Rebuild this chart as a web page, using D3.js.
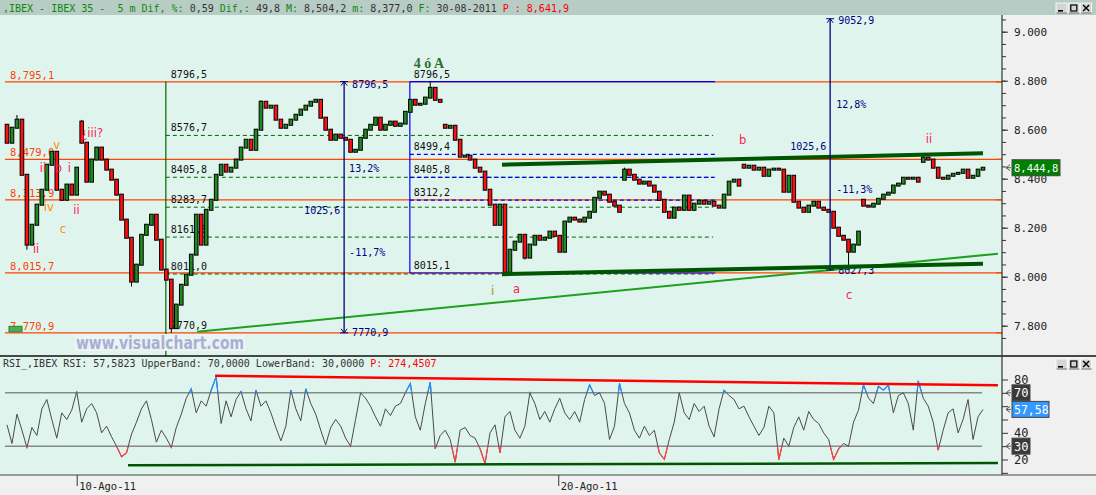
<!DOCTYPE html>
<html><head><meta charset="utf-8">
<script src="https://cdn.jsdelivr.net/npm/d3@7"></script>
<style>
body{margin:0;background:#f0f0f0;overflow:hidden}
text{font-family:"DejaVu Sans Mono",monospace;white-space:pre}
</style>
</head><body><svg id="c" width="1096" height="495"></svg>
<script>
// ---------------- DATA ----------------
const closes=[8547,8608,8641,8416,8131,8212,8294,8355,8457,8510,
8355,8314,8376,8335,8445,8547,8388,8478,8527,8478,
8437,8396,8335,8233,8159,7980,8049,8171,8212,8253,
8151,8029,7988,7790,7886,7967,8008,8090,8253,8131,
8273,8314,8416,8457,8429,8445,8478,8527,8559,8518,
8600,8714,8690,8698,8641,8608,8620,8641,8661,8682,
8698,8714,8722,8649,8600,8559,8580,8567,8559,8510,
8518,8567,8600,8620,8649,8600,8620,8633,8616,8625,
8673,8722,8702,8706,8731,8771,8722,8714,8608,8616,
8559,8490,8494,8478,8445,8429,8355,8294,8212,8294,
8020,8110,8143,8171,8078,8131,8167,8151,8159,8184,
8167,8102,8225,8241,8233,8225,8241,8265,8322,8347,
8335,8306,8290,8265,8437,8416,8396,8380,8388,8372,
8347,8314,8265,8241,8282,8273,8331,8273,8298,8310,
8298,8306,8290,8282,8335,8388,8396,8372,8445,8453,
8437,8445,8412,8437,8441,8437,8347,8412,8306,8282,
8265,8290,8306,8282,8273,8265,8200,8167,8151,8102,
8131,8184,8290,8286,8298,8318,8335,8343,8372,8380,
8404,8400,8404,8388,8486,8478,8445,8404,8400,8412,
8420,8424,8437,8404,8412,8437,8444.8];
// opens after session gaps (others open at previous close)
const gapOpens={0:8620,15:8633,88:8620,124:8396,148:8457,172:8314,184:8469};
const wickHighs={2:8660,15:8640,51:8720,85:8796.5,124:8445,184:8494};
const wickLows={4:8110,25:7960,33:7770.9,100:8015,104:8070,169:8027.3};

const rsi=[46,32,54,42,29,44,38,58,65,50,36,55,50,57,71,48,58,62,55,40,
45,37,30,22,25,39,48,58,64,50,33,42,36,29,44,54,66,73,55,64,
60,72,82,47,64,52,65,71,58,49,72,60,64,55,44,34,45,72,58,49,
73,62,54,42,31,44,50,45,36,30,50,70,66,60,52,45,58,53,60,62,
70,77,52,42,62,78,28,38,42,35,18,42,44,38,36,28,17,40,46,25,
52,56,42,36,45,70,62,50,56,48,58,66,55,50,56,48,65,76,68,70,
62,35,45,77,62,55,42,36,45,38,42,25,20,35,48,70,55,50,62,56,
60,45,37,58,72,68,65,58,60,52,45,38,44,60,55,20,36,30,44,52,
42,56,50,47,40,35,20,28,32,30,48,57,76,66,62,75,72,76,55,68,
70,62,42,79,66,60,48,27,42,55,58,40,50,65,35,52,57.58];

const priceLabels=[7800,8000,8200,8400,8600,8800,9000];
const rsiLabels=[20,40,80];
const levels=[8795.1,8479.0,8313.9,8015.7,7770.9];
const levelLabels=["8,795,1","8,479,0","8,313,9","8,015,7","7,770,9"];
const fibLeft=[8796.5,8576.7,8405.8,8283.7,8161.6,8011.0,7770.9];
const fibLeftLabels=["8796,5","8576,7","8405,8","8283,7","8161,6","8011,0","7770,9"];
const fibBlue=[8796.5,8499.4,8405.8,8312.2,8015.1];
const fibBlueLabels=["8796,5","8499,4","8405,8","8312,2","8015,1"];
const dateTicks=[14.1,110.8];
const dateLabels=["10-Ago-11","20-Ago-11"];
const lastPrice=8444.8, lastRsi=57.58;

// ---------------- SETUP ----------------
const W=1096,H=495,axisX=1002,mainTop=15,mainBot=356,rsiBot=475;
const svg=d3.select("#c");
const x=d3.scaleLinear().domain([0,196]).range([7,983]);
const y=d3.scaleLinear().domain([7800,9000]).range([325.7,31.7]);
const yr=d3.scaleLinear().domain([20,80]).range([459.5,379.5]);
const MINT="#e0f4ee",ORANGE="#ff4500",NAVY="#000080",BLUE="#0000ff",DKG="#006400";
const fmtAx=d=>d3.format(",")(d).replace(",",".");

svg.append("rect").attr("width",W).attr("height",H).attr("fill","#f0f0f0");
svg.append("rect").attr("width",W).attr("height",mainTop).attr("fill","#b8ccc6");
svg.append("rect").attr("x",0).attr("y",mainTop).attr("width",axisX).attr("height",mainBot-mainTop).attr("fill",MINT);
svg.append("rect").attr("x",0).attr("y",mainBot).attr("width",axisX).attr("height",rsiBot-mainBot).attr("fill",MINT);

const defs=svg.append("defs");
defs.append("clipPath").attr("id","cm").append("rect").attr("x",0).attr("y",mainTop).attr("width",axisX).attr("height",mainBot-mainTop);
defs.append("clipPath").attr("id","cr").append("rect").attr("x",0).attr("y",mainBot+1).attr("width",axisX).attr("height",rsiBot-mainBot-1);
defs.append("clipPath").attr("id","hi").append("rect").attr("x",0).attr("y",mainBot).attr("width",axisX).attr("height",yr(70)-mainBot);
defs.append("clipPath").attr("id","lo").append("rect").attr("x",0).attr("y",yr(30)).attr("width",axisX).attr("height",rsiBot-yr(30));

// ---------------- HEADER ----------------
const hdr=svg.append("text").attr("x",3).attr("y",11.5).attr("font-size",10);
[[",IBEX - IBEX 35 -  5 m Dif, %:","#0a8a0a"],[" 0,59 ","#333"],["Dif,:","#0a8a0a"],[" 49,8 ","#333"],
 ["M:","#0a8a0a"],[" 8,504,2 ","#333"],["m:","#0a8a0a"],[" 8,377,0 ","#333"],["F:","#0a8a0a"],
 [" 30-08-2011 ","#333"],["P : 8,641,9","#ff0000"]].forEach(([t,c])=>hdr.append("tspan").attr("fill",c).text(t));

function winButtons(yTop){
  const g=svg.append("g");
  ["min","max","close"].forEach((k,j)=>{
    const bx=1056+j*12.3;
    g.append("rect").attr("x",bx).attr("y",yTop).attr("width",11).attr("height",10).attr("fill","#d4d4d4").attr("stroke","#fff").attr("stroke-width",0.8);
    g.append("line").attr("x1",bx+0.5).attr("x2",bx+11).attr("y1",yTop+10).attr("y2",yTop+10).attr("stroke","#666");
    if(k==="min") g.append("rect").attr("x",bx+2).attr("y",yTop+7).attr("width",5).attr("height",1.6).attr("fill","#000");
    if(k==="max") g.append("rect").attr("x",bx+2.5).attr("y",yTop+2).attr("width",6).attr("height",6).attr("fill","none").attr("stroke","#000").attr("stroke-width",1.2);
    if(k==="close") g.append("path").attr("d",`M${bx+2.5},${yTop+2}L${bx+8.5},${yTop+8}M${bx+8.5},${yTop+2}L${bx+2.5},${yTop+8}`).attr("stroke","#000").attr("stroke-width",1.4);
  });
}
winButtons(3);

// ---------------- MAIN PANEL ----------------
const gm=svg.append("g").attr("clip-path","url(#cm)");
levels.forEach((v,k)=>{
  gm.append("line").attr("x1",x(-0.4)).attr("x2",axisX).attr("y1",y(v)).attr("y2",y(v)).attr("stroke",ORANGE).attr("stroke-width",1.2);
  gm.append("text").attr("x",10).attr("y",y(v)-3).attr("font-size",10.5).attr("fill",ORANGE).text(levelLabels[k]);
});
gm.append("rect").attr("x",9).attr("y",y(7770.9)-6.5).attr("width",13).attr("height",5.5).attr("fill","#4caf50").attr("stroke","#2e7d32");

// left fibonacci
const fl0=31.9, fl1=141.8;
gm.append("line").attr("x1",x(fl0)).attr("x2",x(fl0)).attr("y1",y(fibLeft[0])).attr("y2",mainBot).attr("stroke",DKG).attr("stroke-width",1.2);
fibLeft.forEach((v,k)=>{
  if(k>0&&k<fibLeft.length-1)
    gm.append("line").attr("x1",x(fl0)).attr("x2",x(fl1)).attr("y1",y(v)).attr("y2",y(v)).attr("stroke",DKG).attr("stroke-dasharray","4,3");
  gm.append("text").attr("x",x(fl0)+5).attr("y",y(v)-4).attr("font-size",10).attr("fill","#111").text(fibLeftLabels[k]);
});
// blue fibonacci
const fb0=80.9, fb1=142.2;
gm.append("line").attr("x1",x(fb0)).attr("x2",x(fb0)).attr("y1",y(fibBlue[0])).attr("y2",y(fibBlue[4])).attr("stroke",BLUE).attr("stroke-width",1.2);
fibBlue.forEach((v,k)=>{
  gm.append("line").attr("x1",x(fb0)).attr("x2",x(fb1)).attr("y1",y(v)).attr("y2",y(v)).attr("stroke",BLUE).attr("stroke-width",1.2)
    .attr("stroke-dasharray",(k===0||k===4)?null:"4,3");
  gm.append("text").attr("x",x(fb0)+4).attr("y",y(v)-4).attr("font-size",10).attr("fill","#111").text(fibBlueLabels[k]);
});

// candles
const candles=closes.map((c,i)=>{
  const o=gapOpens[i]!==undefined?gapOpens[i]:closes[i-1];
  return {i,o,c,h:wickHighs[i]!==undefined?wickHighs[i]:Math.max(o,c),l:wickLows[i]!==undefined?wickLows[i]:Math.min(o,c)};
});
const gc=gm.append("g");
gc.selectAll("line").data(candles).join("line")
  .attr("x1",d=>x(d.i)).attr("x2",d=>x(d.i)).attr("y1",d=>y(d.h)).attr("y2",d=>y(d.l)).attr("stroke","#000");
gc.selectAll("rect").data(candles).join("rect")
  .attr("x",d=>x(d.i)-1.8).attr("width",3.6)
  .attr("y",d=>y(Math.max(d.o,d.c))-0.5).attr("height",d=>Math.max(2,Math.abs(y(d.o)-y(d.c))+1))
  .attr("fill",d=>d.c>=d.o?"#1f8a1f":"#ff1010").attr("stroke","#000").attr("stroke-width",1);

// trend line & channel
const line=d3.line().x(d=>x(d[0])).y(d=>y(d[1]));
const trend=[[38.2,7775],[199,8094]];
const chanTop=[[99.4,8457],[196,8504]];
const chanBot=[[99.4,8010],[196,8053]];
gm.append("path").attr("d",line(trend)).attr("stroke","#1ea01e").attr("stroke-width",2).attr("fill","none");
gm.append("path").attr("d",line(chanTop)).attr("stroke","#005500").attr("stroke-width",4).attr("fill","none");

// measure arrows
function arrow(i,pTop,pBot,labels){
  const ax=x(i),y1=y(pTop),y2=y(pBot);
  gm.append("line").attr("x1",ax).attr("x2",ax).attr("y1",y1).attr("y2",y2).attr("stroke",NAVY).attr("stroke-width",1.3);
  [[y1,1],[y2,-1]].forEach(([yy,s])=>{
    gm.append("line").attr("x1",ax-4).attr("x2",ax+4).attr("y1",yy).attr("y2",yy).attr("stroke",NAVY);
    gm.append("path").attr("d",`M${ax-3},${yy+4*s}L${ax},${yy}L${ax+3},${yy+4*s}`).attr("stroke",NAVY).attr("fill","none");
  });
  labels.forEach(l=>gm.append("text").attr("x",ax+l.dx).attr("y",y(l.p)).attr("font-size",10).attr("fill",NAVY).text(l.t));
}
arrow(67.7,8796.5,7770.9,[{t:"8796,5",p:8772,dx:8},{t:"13,2%",p:8429,dx:5},{t:"1025,6",p:8257,dx:-40},{t:"-11,7%",p:8086,dx:5},{t:"7770,9",p:7760,dx:8}]);
arrow(165.3,9052.9,8027.3,[{t:"9052,9",p:9030,dx:8},{t:"12,8%",p:8690,dx:6},{t:"1025,6",p:8518,dx:-40},{t:"-11,3%",p:8343,dx:6},{t:"8027,3",p:8010,dx:8}]);
gm.append("path").attr("d",line(chanBot)).attr("stroke","#005500").attr("stroke-width",4).attr("fill","none");

// wave labels
const waves=[
 {t:"¿iii?",i:14.9,p:8571,c:"#ff2050"},{t:"v",i:9.3,p:8522,c:"#ff8c00"},{t:"ii",i:6.6,p:8429,c:"#ff2050"},
 {t:"b",i:9.6,p:8429,c:"#ff2050"},{t:"i",i:12.2,p:8429,c:"#ff2050"},{t:"iv",i:7.4,p:8268,c:"#ff8c00"},
 {t:"ii",i:13.3,p:8255,c:"#ff2050"},{t:"c",i:10.6,p:8180,c:"#ff8c00"},{t:"ii",i:5.2,p:8098,c:"#ff2050"},
 {t:"i",i:97.2,p:7927,c:"#999900"},{t:"a",i:101.6,p:7935,c:"#ff2050"},{t:"b",i:147,p:8543,c:"#ff2050"},
 {t:"ii",i:184.5,p:8547,c:"#ff2050"},{t:"c",i:168.5,p:7910,c:"#ff2050"}];
gm.selectAll("text.w").data(waves).join("text").attr("class","w")
  .attr("x",d=>x(d.i)).attr("y",d=>y(d.p)).attr("fill",d=>d.c)
  .style("font-family","'DejaVu Sans',sans-serif").attr("font-size",11.5).text(d=>d.t);
gm.append("text").attr("x",x(81.7)).attr("y",y(8796.5)-14).attr("font-size",14).attr("font-weight","bold")
  .style("font-family","'Liberation Serif',serif").attr("fill","#2d6e2d").text("4 ó A");

// watermark
gm.append("rect").attr("x",74).attr("y",334).attr("width",172).attr("height",17).attr("fill","#eaf5f2");
gm.append("text").attr("x",76).attr("y",348.5).attr("font-size",17).attr("font-weight","bold")
  .style("font-family","'DejaVu Sans',sans-serif").attr("fill","#a9aed6")
  .attr("textLength",168).attr("lengthAdjust","spacingAndGlyphs").text("www.visualchart.com");

// ---------------- RIGHT PRICE AXIS ----------------
const ax=svg.append("g").attr("transform",`translate(${axisX},0)`);
ax.call(d3.axisRight(y).tickValues(d3.range(7750,9051,50)).tickSize(4).tickFormat(""));
ax.call(g=>g.select(".domain").remove());
const ax2=svg.append("g").attr("transform",`translate(${axisX},0)`)
  .call(d3.axisRight(y).tickValues(priceLabels).tickSize(6).tickPadding(6).tickFormat(fmtAx));
ax2.select(".domain").remove();
svg.selectAll(".tick line").attr("stroke","#333");
ax2.selectAll("text").attr("font-size",11).style("font-family","'DejaVu Sans Mono',monospace").attr("fill","#222");
levels.forEach(v=>svg.append("line").attr("x1",axisX-6).attr("x2",axisX).attr("y1",y(v)).attr("y2",y(v)).attr("stroke",ORANGE).attr("stroke-width",1.2));

function tag(yy,label,fill,w,fs){
  svg.append("path").attr("d",`M${axisX+8},${yy-3}L${axisX+4},${yy}L${axisX+8},${yy+3}M${axisX+4},${yy}H${axisX+9}`).attr("stroke","#555").attr("fill","none");
  svg.append("rect").attr("x",axisX+10).attr("y",yy-8).attr("width",w).attr("height",16).attr("fill",fill).attr("stroke","#444");
  svg.append("text").attr("x",axisX+12).attr("y",yy+4.5).attr("font-size",fs).attr("fill","#fff").text(label);
}
tag(y(lastPrice),"8,444,8","#008000",48,10.5);

// ---------------- RSI PANEL ----------------
svg.append("line").attr("x1",0).attr("x2",W).attr("y1",mainBot).attr("y2",mainBot).attr("stroke","#111").attr("stroke-width",1.6);
const rh=svg.append("text").attr("x",3).attr("y",366.5).attr("font-size",10);
rh.append("tspan").attr("fill","#333").text("RSI_,IBEX RSI: 57,5823 UpperBand: 70,0000 LowerBand: 30,0000 ");
rh.append("tspan").attr("fill","#ff0000").text("P: 274,4507");
winButtons(359);

const gr=svg.append("g").attr("clip-path","url(#cr)");
[70,30].forEach(v=>gr.append("line").attr("x1",x(-0.4)).attr("x2",x(195.8)).attr("y1",yr(v)).attr("y2",yr(v)).attr("stroke","#555"));
const rl=d3.line().x((d,i)=>x(i)).y(d=>yr(d));
gr.append("path").attr("d",rl(rsi)).attr("fill","none").attr("stroke","#4a4a4a").attr("stroke-width",1);
gr.append("g").attr("clip-path","url(#hi)").append("path").attr("d",rl(rsi)).attr("fill","none").attr("stroke","#1e90ff").attr("stroke-width",1.2);
gr.append("g").attr("clip-path","url(#lo)").append("path").attr("d",rl(rsi)).attr("fill","none").attr("stroke","#ff4040").attr("stroke-width",1.2);
const rline=d3.line().x(d=>x(d[0])).y(d=>yr(d[1]));
const rsiRes=[[41.8,82.8],[199,75.7]];
const rsiSup=[[24.3,15.7],[199,17.3]];
gr.append("path").attr("d",rline(rsiRes)).attr("stroke","#ff0000").attr("stroke-width",2.5).attr("fill","none");
gr.append("path").attr("d",rline(rsiSup)).attr("stroke","#005500").attr("stroke-width",2.5).attr("fill","none");

const rax=svg.append("g").attr("transform",`translate(${axisX},0)`)
  .call(d3.axisRight(yr).tickValues(d3.range(10,81,10)).tickSize(6).tickPadding(6).tickFormat(d=>rsiLabels.includes(d)?d:""));
rax.select(".domain").remove();
rax.selectAll("line").attr("stroke","#333");
rax.selectAll("text").attr("font-size",12).style("font-family","'DejaVu Sans Mono',monospace").attr("fill","#222");
tag(yr(70),"70","#3a3a3a",18,12);
tag(yr(30),"30","#3a3a3a",18,12);
tag(yr(lastRsi),"57,58","#3399ff",37,11.5);

// axes lines & bottom
svg.append("line").attr("x1",axisX).attr("x2",axisX).attr("y1",mainTop).attr("y2",rsiBot).attr("stroke","#333").attr("stroke-width",1.2);
svg.append("line").attr("x1",0).attr("x2",W).attr("y1",rsiBot).attr("y2",rsiBot).attr("stroke","#444").attr("stroke-width",1.2);
dateTicks.forEach((d,k)=>{
  svg.append("line").attr("x1",x(d)).attr("x2",x(d)).attr("y1",rsiBot).attr("y2",rsiBot+11).attr("stroke","#333");
  svg.append("text").attr("x",x(d)+2).attr("y",489.5).attr("font-size",10.5).attr("fill","#222").text(dateLabels[k]);
});
</script></body></html>
